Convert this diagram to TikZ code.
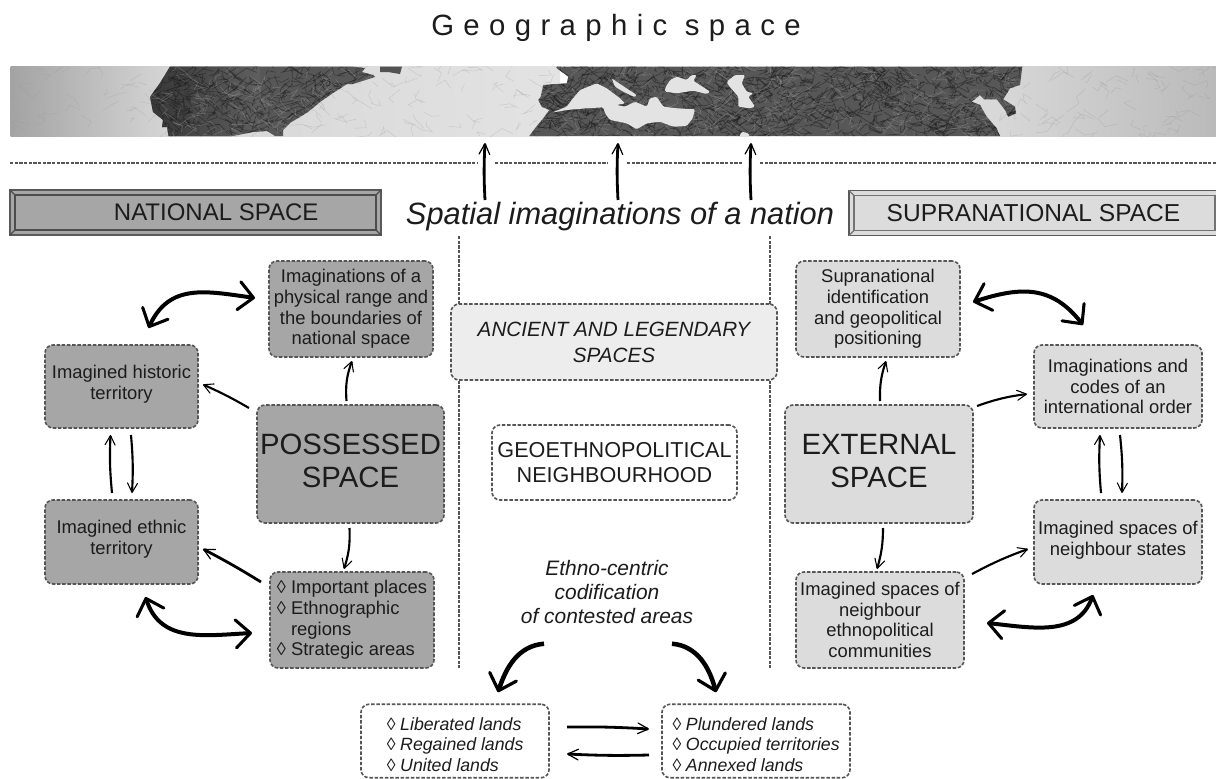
\documentclass[tikz,border=0pt]{standalone}
\usepackage{fontspec}
\setmainfont{Liberation Sans}
\newfontfamily\titlefont[LetterSpace=32]{Liberation Sans}
\usetikzlibrary{arrows.meta,calc}
\definecolor{darkfill}{HTML}{A6A6A6}
\definecolor{lightfill}{HTML}{DCDCDC}
\definecolor{palefill}{HTML}{EDEDED}
\definecolor{edgegray}{HTML}{555555}
\definecolor{ink}{HTML}{1C1C1C}
\newcommand{\dn}[1]{\rule[-#1]{0pt}{0pt}}
\newcommand{\loz}{\char"25CA\ }
\newcommand{\crumple}[7]{%
  \pgfmathsetseed{#1}%
  \foreach \i in {1,...,#2}{%
    \pgfmathsetmacro\xa{#3+rnd*(#4-#3)}%
    \pgfmathsetmacro\ya{66+rnd*70}%
    \pgfmathsetmacro\xb{\xa+(rnd-.5)*26}%
    \pgfmathsetmacro\yb{\ya+(rnd-.5)*18}%
    \pgfmathsetmacro\xc{\xb+(rnd-.5)*26}%
    \pgfmathsetmacro\yc{\yb+(rnd-.5)*18}%
    \draw[#5,line width=#6,opacity=#7,line join=round] (\xa,\ya)--(\xb,\yb)--(\xc,\yc);
  }}
\newcommand{\darkA}{(170,66.7)--(353,66.7)--(365,68)--(362,72)--(373,75)--(375,77)--(353,84)--(347,84)--(333,93)--(320,102)--(308,112)--(290,123)--(283,130)--(283,136)--(275,136)--(267,131)--(253,132)--(232,136)--(168.5,136)--(167,127)--(162,127)--(163,120)--(153,112)--(150,97)--(160,83)--cycle}
\newcommand{\darkB}{(556.7,66.7)--(556.7,68)--(568.3,76.7)--(566.7,83.3)--(543.3,85)--(540.7,96.7)--(538.3,100)--(541.7,106.7)--(549.3,110)--(543.3,118.3)--(535,128.3)--(529.3,136)--(1000,136)--(996.7,128.3)--(986.7,116.7)--(980,105)--(971.7,101.7)--(980,95)--(984,99.3)--(996.7,99.3)--(1005,110)--(1008.3,116.7)--(1016,113.3)--(1015,106.7)--(1003.3,99.3)--(1010,88.3)--(1020,85)--(1022.3,66.7)--cycle}
\tikzset{
  x=0.75pt,y=-0.75pt,
  sz/.style 2 args={minimum width=#1*0.75pt,minimum height=#2*0.75pt},
  basebox/.style={draw=edgegray,line width=1.2pt,dash pattern=on 2.6pt off 1.3pt,rounded corners=6pt,
     inner sep=0pt,outer sep=0pt,align=center,text=ink,font=\fontsize{13.8}{15.5}\selectfont},
  darkbox/.style={basebox,fill=darkfill},
  lightbox/.style={basebox,fill=lightfill},
  whitebox/.style={basebox,fill=white},
  listbox/.style={whitebox,align=left,font=\fontsize{13.3}{15.2}\selectfont\itshape},
  bigtext/.style={font=\fontsize{22}{25}\selectfont},
  banner/.style={draw=black!65,line width=.9pt,inner sep=0pt,outer sep=0pt,text=ink},
  bevel/.style={line width=.9pt,draw=black!70},
  sepline/.style={draw=edgegray,line width=1.2pt,dash pattern=on 2.4pt off 1.1pt},
  boldarr/.style={draw=black,line width=3pt,{Straight Barb[length=11pt,width=21pt,line width=2.3pt,round]}-{Straight Barb[length=11pt,width=21pt,line width=2.3pt,round]}},
  boldone/.style={draw=black,line width=3.4pt,-{Straight Barb[length=11pt,width=21pt,line width=2.4pt,round]}},
  thinarr/.style={draw=black,line width=1.6pt,-{Straight Barb[length=7pt,width=7.5pt,line width=.8pt,round]}},
  midarr/.style={draw=black,line width=2.1pt,-{Straight Barb[length=8pt,width=8pt,line width=.9pt,round]}},
}
\begin{document}
\begin{tikzpicture}
\useasboundingbox (0,0) rectangle (1216,778);
\fill[white] (0,0) rectangle (1216,778);

% title
\node[font=\titlefont\fontsize{22}{25}\selectfont,text=ink,inner sep=0pt] (title) at (616,28) {Geographic space};

% strip
\begin{scope}
\clip (10.5,66.5) rectangle (1216,136);
\shade[left color=black!36,right color=black!16] (10,66) rectangle (170,137);
\shade[left color=black!16,right color=black!11] (170,66) rectangle (560,137);
\shade[left color=black!14,right color=black!27] (970,66) rectangle (1216,137);
\crumple{11}{160}{10}{560}{black!40}{.4pt}{.3}
\crumple{12}{70}{1000}{1216}{black!42}{.4pt}{.3}
\fill[black!66] \darkA \darkB;
\begin{scope}
\clip \darkA \darkB;
\shade[left color=black!82,right color=black!62,opacity=.8] (148,66) rectangle (260,137);
\crumple{21}{420}{150}{380}{black!90}{.5pt}{.45}
\crumple{22}{1000}{530}{1025}{black!90}{.55pt}{.45}
\crumple{23}{600}{150}{1025}{black!42}{.45pt}{.4}
\end{scope}
\fill[black!68] (380,66.7)--(402,66.7)--(400,74)--(388,72)--(380,72)--cycle;
\fill[black!11,rounded corners=1pt] (551.7,112.7)--(566.7,106.7)--(571.7,100)--(580,90)--(596.7,83.3)--(606.7,88.3)--(620,98.3)--(625,103.3)--(616.7,105)--(625,106.7)--(635,101.7)--(646.7,106.7)--(650,98.3)--(656.7,96.7)--(663.3,106.7)--(676.7,108.3)--(695,109.3)--(692.7,118.3)--(686.7,126)--(673.3,126.7)--(660,121.7)--(646.7,123.3)--(636.7,129.3)--(626.7,123.3)--(610,120)--(605,113.3)--(603.3,107.3)--(586.7,108.3)--(566.7,110)--cycle;
\fill[black!11,rounded corners=1pt] (611.7,78.3)--(620,84)--(636.7,95)--(635,97.3)--(623.3,91.7)--(615,86.7)--cycle;
\fill[black!11,rounded corners=1pt] (665,88.3)--(670,80)--(676.7,76.7)--(686.7,80)--(691.7,75)--(696.7,75)--(693.3,80.7)--(710,91.7)--(706.7,94)--(693.3,90.7)--(676.7,93.3)--(665,91.7)--cycle;
\fill[black!11,rounded corners=1pt] (726.7,81.7)--(735,75)--(745,75)--(741.7,83.3)--(746.7,91.7)--(753.3,93.3)--(748.3,96.7)--(755,106.7)--(750,108.3)--(738.3,106.7)--(738.3,96.7)--(728.3,85)--cycle;
\fill[black!11,rounded corners=1pt] (739.3,136.5)--(741.7,131.7)--(748.3,133.3)--(750,136.5)--cycle;
\end{scope}
\node[sz={1206}{70},inner sep=0pt,outer sep=0pt] (strip) at (613,101) {};

% separators
\foreach \a/\b in {10/477,495/608,627/742,760/1216}{\draw[sepline] (\a,163)--(\b,163);}
\foreach \xx in {459,770}{\draw[sepline] (\xx,236)--(\xx,668);}

% banners
\node[banner,fill=darkfill,sz={371}{45},font=\fontsize{18}{21}\selectfont] (nat) at (195.5,212.5) {\hspace*{31pt}NATIONAL SPACE};
\draw[bevel] ($(nat.north west)+(5,5)$) rectangle ($(nat.south east)+(-5,-5)$);
\draw[bevel] (nat.north west)--($(nat.north west)+(5,5)$) (nat.north east)--($(nat.north east)+(-5,5)$) (nat.south west)--($(nat.south west)+(5,-5)$) (nat.south east)--($(nat.south east)+(-5,-5)$);
\node[banner,fill=lightfill,sz={369}{45},font=\fontsize{18.4}{21}\selectfont] (sup) at (1033.5,213) {SUPRANATIONAL SPACE};
\draw[bevel,draw=black!55] ($(sup.north west)+(5,5)$) rectangle ($(sup.south east)+(-3,-5)$);
\draw[bevel,draw=black!55] (sup.north west)--($(sup.north west)+(5,5)$) (sup.south west)--($(sup.south west)+(5,-5)$);

\node[inner sep=0pt,outer sep=0pt,text=ink,minimum height=27pt,font=\fontsize{23.1}{26}\selectfont\itshape] (spatial) at (620,217) {Spatial imaginations of a nation};

% left boxes
\node[darkbox,sz={164}{96}] (img) at (351,309) {Imaginations of a\\physical range and\\the boundaries of\\national space};
\node[darkbox,sz={153}{83}] (hist) at (121.5,386.5) {Imagined historic\\territory\dn{6pt}};
\node[darkbox,bigtext,sz={187}{118}] (poss) at (350.5,464) {POSSESSED\\SPACE\dn{5pt}};
\node[darkbox,sz={153}{84}] (ethn) at (121.5,542) {Imagined ethnic\\territory\dn{7pt}};
\node[darkbox,align=left,sz={164}{96}] (places) at (352,620) {\loz Important places\\\loz Ethnographic\\\phantom{\loz}regions\\\loz Strategic areas};

% centre boxes
\node[basebox,fill=palefill,sz={326}{76},font=\fontsize{15.5}{19.5}\selectfont\itshape] (anc) at (614,342) {ANCIENT AND LEGENDARY\\SPACES};
\node[whitebox,sz={245}{75},font=\fontsize{16.2}{19}\selectfont] (geo) at (614.5,462.5) {GEOETHNOPOLITICAL\\NEIGHBOURHOOD};
\node[inner sep=0pt,outer sep=0pt,align=center,text=ink,font=\fontsize{15.7}{18}\selectfont\itshape] (etno) at (607,592) {Ethno-centric\\codification\\of contested areas};

% right boxes
\node[lightbox,sz={164}{96}] (supr) at (878,309) {Supranational\\identification\\and geopolitical\\positioning};
\node[lightbox,sz={168}{83}] (codes) at (1118,386.5) {Imaginations and\\codes of an\\international order};
\node[lightbox,bigtext,sz={188}{118}] (ext) at (879,464) {EXTERNAL\\SPACE\dn{5pt}};
\node[lightbox,sz={168}{84}] (states) at (1118,542) {Imagined spaces of\\neighbour states\dn{6pt}};
\node[lightbox,sz={168}{96}] (comm) at (880,620) {Imagined spaces of\\neighbour\\ethnopolitical\\communities};

% bottom boxes
\node[listbox,sz={188}{73.5}] (lib) at (455,741) {\rule{0pt}{15pt}\loz Liberated lands\\\loz Regained lands\\\loz United lands};
\node[listbox,sz={188}{73.5}] (plu) at (756,741) {\rule{0pt}{15pt}\loz Plundered lands\\\loz Occupied territories\\\loz Annexed lands};

% arrows to the strip
\draw[midarr] ($(spatial.north)+(-135,1)$) to[bend left=3] ($(strip.south)+(-128,7)$);
\draw[midarr] ($(spatial.north)+(-2,1)$) to[bend left=3] ($(strip.south)+(5,7)$);
\draw[midarr] ($(spatial.north)+(131,1)$) to[bend left=3] ($(strip.south)+(138,7)$);

% left cycle
\draw[boldarr] ($(hist.north)+(27,-17)$) to[out=65,in=172,looseness=1.15] ($(img.west)+(-14,-11)$);
\draw[boldarr] ($(ethn.south)+(24,13)$) to[out=-72,in=183,looseness=1.1] ($(places.west)+(-18,13)$);
\draw[thinarr] ($(poss.north)+(-4,-4)$) to[bend left=12] ($(img.south)+(1,4)$);
\draw[thinarr] ($(poss.north west)+(-8,3)$) to[bend right=3] ($(hist.east)+(5,-2)$);
\draw[thinarr] ($(ethn.north)+(-9.5,-7)$) to[bend left=4] ($(hist.south)+(-11,7)$);
\draw[thinarr] ($(hist.south)+(9.5,7)$) to[bend left=4] ($(ethn.north)+(10.5,-7)$);
\draw[thinarr] ($(poss.south)+(-1,5)$) to[bend left=10] ($(places.north)+(-8,-3)$);
\draw[midarr] ($(places.north west)+(-9,10)$) to[bend right=2] ($(ethn.east)+(5,7)$);

% right cycle
\draw[boldarr] ($(supr.east)+(13,-7)$) to[out=18,in=128,looseness=1.15] ($(codes.north)+(-35,-20)$);
\draw[boldarr] ($(comm.east)+(23,3)$) to[out=-6,in=-110,looseness=1.05] ($(states.south)+(-25,11)$);
\draw[thinarr] ($(ext.north)+(1,-4)$) to[bend left=10] ($(supr.south)+(8,4)$);
\draw[thinarr] ($(ext.north east)+(4,1)$) to[bend left=6] ($(codes.west)+(-7,7.5)$);
\draw[thinarr] ($(states.north)+(-17,-7)$) to[bend left=4] ($(codes.south)+(-18,7)$);
\draw[thinarr] ($(codes.south)+(2,7)$) to[bend left=4] ($(states.north)+(4,-7)$);
\draw[thinarr] ($(ext.south)+(4,5)$) to[bend left=8] ($(comm.north)+(-3,-3)$);
\draw[thinarr] ($(comm.north east)+(8,2)$) to[bend left=4] ($(states.west)+(-6,7)$);

% codification arrows
\draw[boldone] ($(etno.south)+(-63,20)$) to[out=185,in=72] ($(lib.north)+(43,-12)$);
\draw[boldone] ($(etno.south)+(65,20)$) to[out=-5,in=105] ($(plu.north)+(-40,-12)$);
\draw[midarr] ($(lib.east)+(18,-14)$) to[bend left=2] ($(plu.west)+(-13,-12)$);
\draw[midarr] ($(plu.west)+(-13,14)$) to[bend left=2] ($(lib.east)+(18,13)$);
\end{tikzpicture}
\end{document}
